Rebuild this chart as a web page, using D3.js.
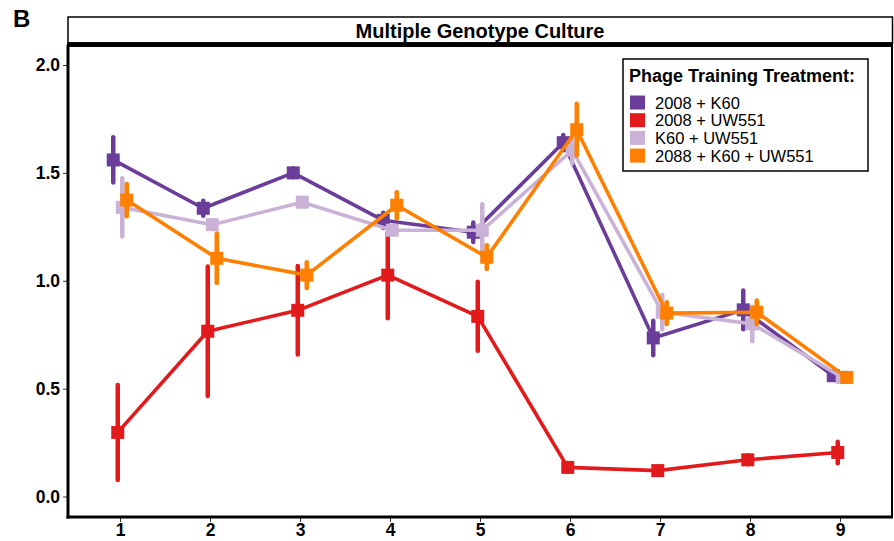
<!DOCTYPE html>
<html>
<head>
<meta charset="utf-8">
<script src="https://cdn.jsdelivr.net/npm/d3@7/dist/d3.min.js"></script>
<style>
  html, body { margin: 0; padding: 0; background: #fff; }
  svg { display: block; font-family: "Liberation Sans", Arial, sans-serif; }
</style>
</head>
<body>
<svg id="chart" width="894" height="541"></svg>
<script>
// Time points on the x axis
const timePoints = [1, 2, 3, 4, 5, 6, 7, 8, 9];
const yTicks = [0.0, 0.5, 1.0, 1.5, 2.0];

// Treatment groups, in legend / dodge order
const seriesNames = ["2008 + K60", "2008 + UW551", "K60 + UW551", "2088 + K60 + UW551"];
const seriesColors = ["#6a3d9a", "#e31a1c", "#cab2d6", "#ff7f00"];

// Mean values per time point
const meanK60 = [1.56, 1.336, 1.50, 1.28, 1.225, 1.64, 0.735, 0.865, 0.56];
const meanUW551 = [0.297, 0.766, 0.863, 1.026, 0.835, 0.135, 0.12, 0.17, 0.204];
const meanK60UW551 = [1.34, 1.26, 1.364, 1.234, 1.234, 1.605, 0.854, 0.80, 0.552];
const meanTriple = [1.374, 1.104, 1.026, 1.35, 1.109, 1.70, 0.85, 0.854, 0.552];

// Error bar half-widths per time point
const errK60 = [0.105, 0.035, 0.02, 0.035, 0.045, 0.035, 0.08, 0.09, 0.02];
const errUW551 = [0.22, 0.30, 0.205, 0.20, 0.16, 0.02, 0.015, 0.02, 0.05];
const errK60UW551 = [0.135, 0.02, 0.02, 0.02, 0.12, 0.06, 0.08, 0.08, 0.02];
const errTriple = [0.075, 0.115, 0.06, 0.06, 0.055, 0.12, 0.05, 0.055, 0.02];

const means = [meanK60, meanUW551, meanK60UW551, meanTriple];
const errs = [errK60, errUW551, errK60UW551, errTriple];

const svg = d3.select("#chart");

// Panel geometry
const panel = { left: 68, right: 892, top: 46, bottom: 517 };

const x = d3.scaleLinear().domain([1, 9]).range([120, 840]);
const y = d3.scaleLinear().domain([0, 2]).range([496.5, 65]);

// Small horizontal dodge so overlapping groups stay visible
const dodgeW = 18 / 90; // in x-units
const offsets = seriesNames.map((_, i) => (i - 1.5) * dodgeW / 4);

// Panel label
svg.append("text")
  .attr("x", 13).attr("y", 27)
  .attr("font-size", 24).attr("font-weight", "bold")
  .text("B");

// Facet strip
svg.append("rect")
  .attr("x", panel.left).attr("y", 17)
  .attr("width", panel.right - panel.left + 0.5).attr("height", 26)
  .attr("fill", "#fff").attr("stroke", "#000").attr("stroke-width", 1.5);
svg.append("text")
  .attr("x", 480).attr("y", 37.5)
  .attr("text-anchor", "middle")
  .attr("font-size", 20).attr("font-weight", "bold")
  .text("Multiple Genotype Culture");
svg.append("line")
  .attr("x1", panel.left - 1).attr("x2", panel.right + 1)
  .attr("y1", 44).attr("y2", 44)
  .attr("stroke", "#000").attr("stroke-width", 3.5);

// Panel border
svg.append("rect")
  .attr("x", panel.left).attr("y", panel.top)
  .attr("width", panel.right - panel.left).attr("height", panel.bottom - panel.top)
  .attr("fill", "none").attr("stroke", "#000").attr("stroke-width", 2);

// Axes
const tickFont = "'Liberation Sans', Arial, sans-serif";
const yAxis = d3.axisLeft(y).tickValues(yTicks).tickFormat(d3.format(".1f")).tickSize(4).tickPadding(3);
const gy = svg.append("g").attr("transform", `translate(${panel.left - 1},0)`).call(yAxis);
gy.select(".domain").remove();
gy.selectAll(".tick line").attr("stroke", "#333").attr("stroke-width", 1);
gy.selectAll(".tick text").attr("font-size", 17.5).attr("font-weight", "bold").attr("fill", "#000")
  .attr("font-family", tickFont);

const xAxis = d3.axisBottom(x).tickValues(timePoints).tickFormat(d3.format("d")).tickSize(4).tickPadding(2);
const gx = svg.append("g").attr("transform", `translate(0,${panel.bottom + 1})`).call(xAxis);
gx.select(".domain").remove();
gx.selectAll(".tick line").attr("stroke", "#333").attr("stroke-width", 1);
gx.selectAll(".tick text").attr("font-size", 17.5).attr("font-weight", "bold").attr("fill", "#000")
  .attr("font-family", tickFont);

// Thick left and bottom axis lines
svg.append("line")
  .attr("x1", panel.left).attr("x2", panel.left)
  .attr("y1", panel.top - 1).attr("y2", panel.bottom + 1.5)
  .attr("stroke", "#000").attr("stroke-width", 3);
svg.append("line")
  .attr("x1", panel.left - 1.5).attr("x2", panel.right + 1)
  .attr("y1", panel.bottom).attr("y2", panel.bottom)
  .attr("stroke", "#000").attr("stroke-width", 3);

// Data series
const plot = svg.append("g");
const line = d3.line().x(d => x(d.t)).y(d => y(d.v));

seriesNames.forEach((name, i) => {
  const data = timePoints.map((t, j) => ({ t: t + offsets[i], v: means[i][j], e: errs[i][j] }));
  const g = plot.append("g").attr("class", "series");
  g.append("path")
    .datum(data)
    .attr("d", line)
    .attr("fill", "none")
    .attr("stroke", seriesColors[i])
    .attr("stroke-width", 3.6)
    .attr("stroke-linejoin", "round");
  g.selectAll("line.err")
    .data(data)
    .join("line")
    .attr("class", "err")
    .attr("x1", d => x(d.t)).attr("x2", d => x(d.t))
    .attr("y1", d => y(d.v + d.e)).attr("y2", d => y(d.v - d.e))
    .attr("stroke", seriesColors[i])
    .attr("stroke-width", 4.5)
    .attr("stroke-linecap", "round");
  const s = 13;
  g.selectAll("rect.pt")
    .data(data)
    .join("rect")
    .attr("class", "pt")
    .attr("x", d => x(d.t) - s / 2).attr("y", d => y(d.v) - s / 2)
    .attr("width", s).attr("height", s)
    .attr("fill", seriesColors[i]);
});

// Legend
const lg = svg.append("g").attr("transform", "translate(623,59)");
lg.append("rect")
  .attr("width", 245).attr("height", 112)
  .attr("fill", "#fff").attr("stroke", "#000").attr("stroke-width", 1.5);
lg.append("text")
  .attr("x", 6).attr("y", 23)
  .attr("font-size", 18).attr("font-weight", "bold")
  .text("Phage Training Treatment:");
seriesNames.forEach((name, i) => {
  const cy = 43.5 + i * 17.7;
  lg.append("rect")
    .attr("x", 7).attr("y", cy - 7)
    .attr("width", 15).attr("height", 14)
    .attr("fill", seriesColors[i]);
  lg.append("text")
    .attr("x", 32).attr("y", cy + 6)
    .attr("font-size", 16.5)
    .text(name);
});
</script>
</body>
</html>
